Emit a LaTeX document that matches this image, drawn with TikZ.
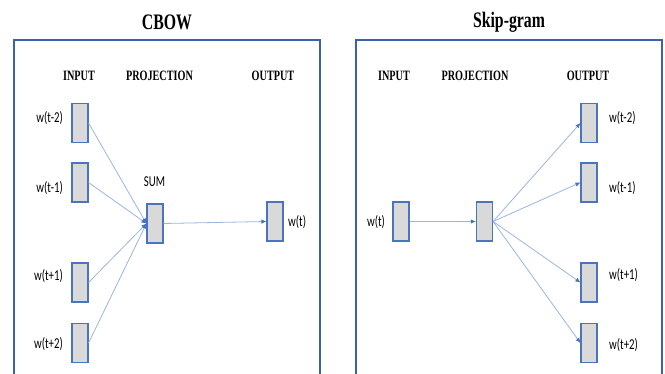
\documentclass[tikz,border=0pt]{standalone}
\usepackage{fontspec}
\setmainfont{Liberation Serif}
\newfontfamily\calib{Carlito}
\usetikzlibrary{arrows.meta}
\definecolor{frameblue}{HTML}{3A62A8}
\definecolor{boxblue}{HTML}{4A74BC}
\definecolor{boxgray}{HTML}{D9D9D9}
\definecolor{lineblue}{HTML}{9BB5E0}
\definecolor{tipblue}{HTML}{4472C4}
\newcommand{\vst}[1]{\scalebox{1}[1.4]{#1}}
\tikzset{
  frame/.style={draw=frameblue, line width=2pt},
  vecbox/.style={draw=boxblue, fill=boxgray, line width=1.1pt, minimum width=16pt, minimum height=39pt, inner sep=0pt},
  ttl/.style={font=\fontsize{15.8}{18}\selectfont\bfseries, inner sep=0pt},
  hdr/.style={font=\fontsize{10.2}{12}\selectfont\bfseries, inner sep=0pt},
  lbl/.style={font=\calib\fontsize{10.8}{12}\selectfont, inner sep=0pt},
  conn/.style={draw=lineblue, line width=0.8pt},
  arr/.style={conn, -{Latex[length=5pt,width=4.5pt,color=tipblue]}}
}
\begin{document}
\begin{tikzpicture}[x=1pt,y=-1pt]
\useasboundingbox (0,0) rectangle (665,374);
\begin{scope}
\clip (0,0) rectangle (665,374);
\draw[frame] (14,390) -- (14,40) -- (320,40) -- (320,390);
\draw[frame] (356,390) -- (356,40) -- (662,40) -- (662,390);
\end{scope}
% titles
\node[ttl] (t1) at (167,22) {\vst{CBOW}};
\node[ttl] (t2) at (509,22) {\vst{Skip-gram}};
% headers
\node[hdr] (h1) at (79,76) {\vst{INPUT}};
\node[hdr] (h2) at (159.5,76) {\vst{PROJECTION}};
\node[hdr] (h3) at (273,76) {\vst{OUTPUT}};
\node[hdr] (h4) at (394,76) {\vst{INPUT}};
\node[hdr] (h5) at (475,76) {\vst{PROJECTION}};
\node[hdr] (h6) at (588,76) {\vst{OUTPUT}};
% CBOW boxes
\node[vecbox] (a1) at (80,123) {};
\node[vecbox] (a2) at (80,182.5) {};
\node[vecbox] (a3) at (80,282.5) {};
\node[vecbox] (a4) at (80,343) {};
\node[vecbox] (ap) at (155,223.5) {};
\node[vecbox] (ao) at (275,221.5) {};
\node[lbl, anchor=east] (la1) at (63,118) {\vst{w(t-2)}};
\node[lbl, anchor=east] (la2) at (63,188) {\vst{w(t-1)}};
\node[lbl, anchor=east] (la3) at (63,276) {\vst{w(t+1)}};
\node[lbl, anchor=east] (la4) at (63,344) {\vst{w(t+2)}};
\node[lbl, anchor=west] (lao) at (288,222) {\vst{w(t)}};
\node[lbl] (sum) at (154.5,182) {\vst{SUM}};
\foreach \n in {a1,a2,a3,a4} \draw[arr] (\n.east) -- (ap.west);
\draw[arr] (ap.east) -- (ao.west);
% Skip-gram boxes
\node[vecbox] (b0) at (401,221.5) {};
\node[vecbox] (bp) at (484.5,221.5) {};
\node[vecbox] (b1) at (589,123) {};
\node[vecbox] (b2) at (589,182.5) {};
\node[vecbox] (b3) at (589,282.5) {};
\node[vecbox] (b4) at (589,343) {};
\node[lbl] (lb0) at (376,222) {\vst{w(t)}};
\node[lbl, anchor=west] (lb1) at (609,118) {\vst{w(t-2)}};
\node[lbl, anchor=west] (lb2) at (609,188) {\vst{w(t-1)}};
\node[lbl, anchor=west] (lb3) at (609,275) {\vst{w(t+1)}};
\node[lbl, anchor=west] (lb4) at (609,345) {\vst{w(t+2)}};
\draw[arr] (b0.east) -- (bp.west);
\foreach \n in {b1,b2,b3,b4} \draw[arr] (bp.east) -- (\n.west);
\end{tikzpicture}
\end{document}
